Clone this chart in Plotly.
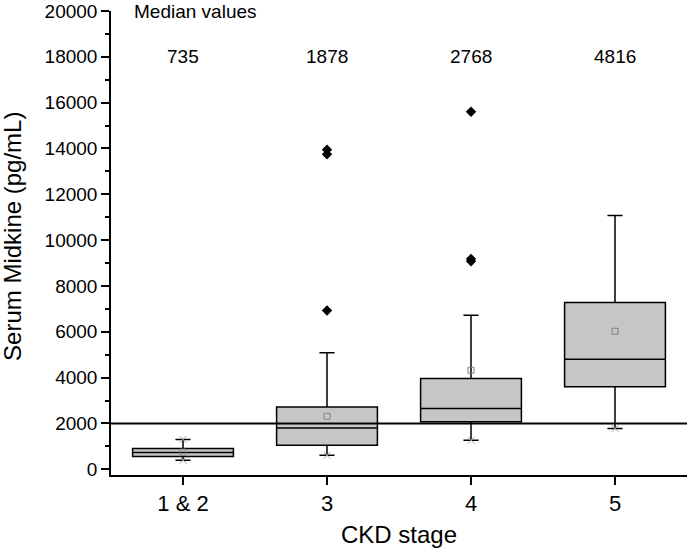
import plotly.graph_objects as go

# CKD stage groups and box statistics
stages = ["1 & 2", "3", "4", "5"]
positions = [1, 2, 3, 4]
q1 = [555, 1050, 2070, 3600]
median = [735, 1800, 2650, 4805]
q3 = [905, 2720, 3960, 7280]
lower_whisker = [395, 610, 1265, 1780]
upper_whisker = [1300, 5080, 6725, 11080]
means = [750, 2315, 4320, 6025]

# outliers
outlier_x = [2, 2, 2, 3, 3, 3]
outlier_y = [13950, 13750, 6930, 15600, 9180, 9080]

# small grey crosses (1st / 99th percentile)
cross_x = [1, 1, 2, 3, 4]
cross_y = [395, 1300, 610, 1265, 1780]

median_labels = ["735", "1878", "2768", "4816"]
THRESHOLD = 2000

fig = go.Figure()

for i in range(len(stages)):
    fig.add_trace(go.Box(
        x=[positions[i]], q1=[q1[i]], median=[median[i]], q3=[q3[i]],
        lowerfence=[lower_whisker[i]], upperfence=[upper_whisker[i]],
        width=0.7, whiskerwidth=0.15, fillcolor="#c6c6c6",
        line=dict(color="black", width=1.5), boxpoints=False,
        showlegend=False, hoverinfo="skip"))

fig.add_trace(go.Scatter(
    x=cross_x, y=cross_y, mode="markers",
    marker=dict(symbol="x-thin", size=7, line=dict(color="#a8a8a8", width=1)),
    showlegend=False, hoverinfo="skip"))

# means
fig.add_trace(go.Scatter(
    x=positions, y=means, mode="markers",
    marker=dict(symbol="square-open", size=6, color="#808080", line=dict(width=1)),
    showlegend=False, hoverinfo="skip"))

fig.add_trace(go.Scatter(
    x=outlier_x, y=outlier_y, mode="markers",
    marker=dict(symbol="diamond", size=8, color="black"),
    showlegend=False, hoverinfo="skip"))

fig.add_shape(type="line", xref="paper", x0=0, x1=1, yref="y", y0=THRESHOLD, y1=THRESHOLD,
              line=dict(color="black", width=2))

fig.add_annotation(text="Median values", xref="paper", yref="y", x=0.037, y=20000,
                   xanchor="left", yanchor="middle", showarrow=False,
                   font=dict(size=19, color="black"))
for p, lab in zip(positions, median_labels):
    fig.add_annotation(text=lab, x=p, y=18000, xref="x", yref="y", showarrow=False,
                       font=dict(size=19, color="black"))

# y axis title placed by hand so it sits close to the left edge
fig.add_annotation(text="Serum Midkine (pg/mL)", xref="paper", yref="paper",
                   x=-0.172, y=0.515, textangle=-90, showarrow=False,
                   xanchor="center", yanchor="middle", font=dict(size=24, color="black"))

fig.update_layout(
    width=688, height=549,
    margin=dict(l=111, r=1, t=11, b=74),
    plot_bgcolor="white", paper_bgcolor="white",
    font=dict(family="Liberation Sans, Arial, sans-serif", size=19, color="black"),
)
fig.update_xaxes(
    range=[0.5, 4.5], tickvals=positions, ticktext=stages,
    showline=True, linecolor="black", linewidth=1.5,
    ticks="outside", ticklen=8, tickwidth=1.5, tickcolor="black",
    showgrid=False, zeroline=False, automargin=False,
    title=dict(text="CKD stage", font=dict(size=24), standoff=11),
    tickfont=dict(size=22),
)
fig.update_yaxes(
    range=[-250, 20000], tickvals=list(range(0, 20001, 2000)), tickformat="d",
    showline=True, linecolor="black", linewidth=1.5,
    ticks="outside", ticklen=8, tickwidth=1.5, tickcolor="black",
    minor=dict(tickvals=list(range(1000, 20000, 2000)), ticks="outside", ticklen=4,
               tickwidth=1.5, tickcolor="black"),
    showgrid=False, zeroline=False, automargin=False,
    tickfont=dict(size=19),
)

fig.write_html("out.html", config={"displayModeBar": False},
               post_script="document.body.style.margin='0';")
